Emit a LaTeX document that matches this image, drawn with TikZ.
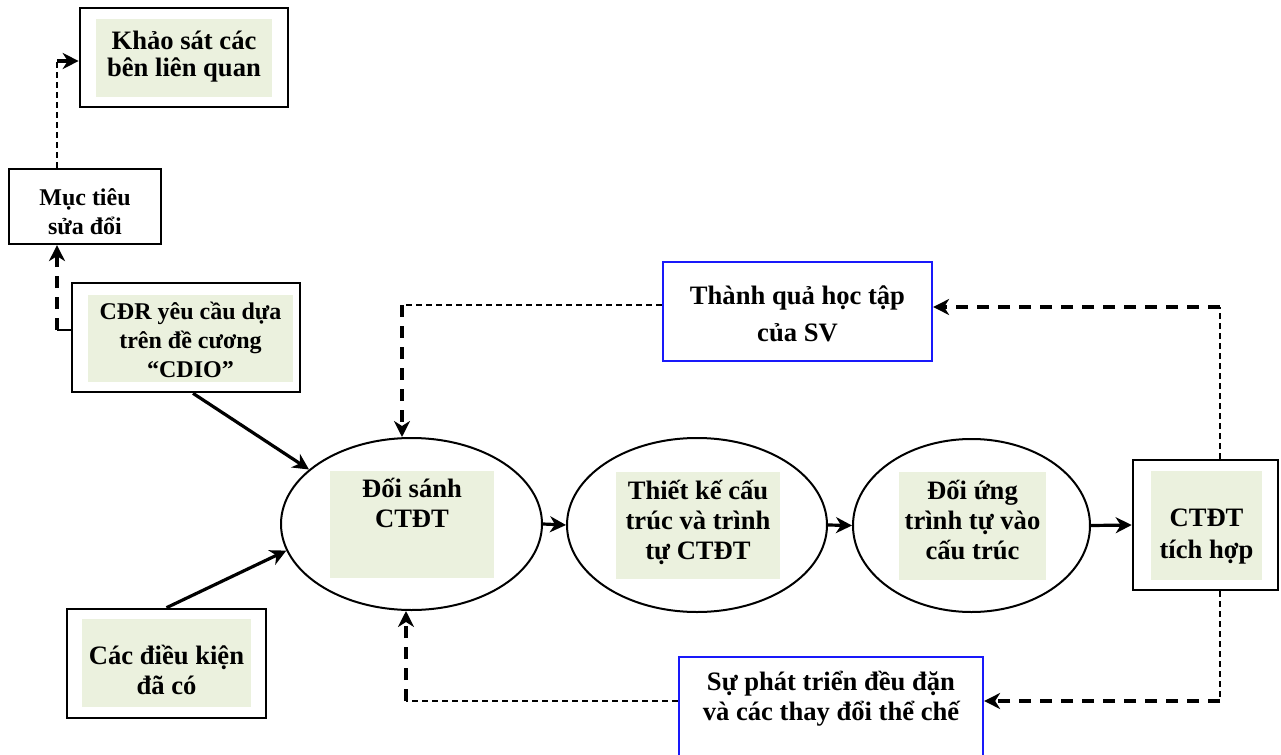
\documentclass[tikz,border=0pt]{standalone}
\usepackage{fontspec}
\setmainfont{Liberation Serif}
\usepackage{tikz}
\usetikzlibrary{shapes, arrows.meta, positioning}
\definecolor{verdeclaro}{RGB}{235,241,222}
\definecolor{azul}{RGB}{25,25,250}
\newcommand{\texto}{\fontsize{13.3}{15}\selectfont\bfseries}
\newcommand{\textochico}{\fontsize{12}{14.5}\selectfont\bfseries}
\tikzstyle{marco} = [draw=black, line width=1.3pt, rectangle, inner sep=0pt]
\tikzstyle{fondo} = [fill=verdeclaro, rectangle, inner sep=0pt]
\tikzstyle{elipse} = [draw=black, ellipse, line width=1pt, inner sep=0pt]
\tikzstyle{cajaazul} = [draw=azul, line width=1.1pt, rectangle, inner sep=0pt]
\tikzstyle{rotulo} = [inner sep=0pt, align=center, font=\texto]
\tikzstyle{flecha} = [line width=1.6pt, -{Stealth[length=8pt,width=8pt,inset=2.5pt]}]
\tikzstyle{fino} = [line width=0.7pt, dash pattern=on 3pt off 2pt]
\tikzstyle{grueso} = [line width=1.6pt, dash pattern=on 6pt off 4.5pt, -{Stealth[length=8pt,width=8pt,inset=2.5pt]}]

\begin{document}
\begin{tikzpicture}[x=0.5pt, y=-0.5pt]
	\clip (0,0) rectangle (1281,755);
	% columna izquierda
	\node [marco, minimum width=104pt, minimum height=49.5pt] (ks) at (184,57.5) {};
	\node [fondo, minimum width=88pt, minimum height=39pt] (ks-in) at (184,58) {};
	\node [rotulo, font=\fontsize{13.3}{13.8}\selectfont\bfseries] (ks-txt) at (184,56.5) {Khảo sát các\\bên liên quan};
	\node [marco, line width=1.1pt, minimum width=76pt, minimum height=37.5pt] (mt) at (85,206.5) {};
	\node [rotulo, font=\textochico] (mt-txt) at (85,211.5) {Mục tiêu\\sửa đổi};
	\node [marco, minimum width=114pt, minimum height=54.5pt] (cdr) at (186,337.5) {};
	\node [fondo, minimum width=102.5pt, minimum height=43.5pt] (cdr-in) at (190.5,338.5) {};
	\node [rotulo, font=\textochico] (cdr-txt) at (190.5,339.5) {CĐR yêu cầu dựa\\trên đề cương\\“CDIO”};
	\node [marco, minimum width=99.5pt, minimum height=54.5pt] (dk) at (166.5,663.5) {};
	\node [fondo, minimum width=84.5pt, minimum height=44pt] (dk-in) at (166.5,663) {};
	\node [rotulo] (dk-txt) at (166.5,670) {Các điều kiện\\đã có};
	% elipses
	\node [elipse, minimum width=130.5pt, minimum height=86pt] (e1) at (411.5,524) {};
	\node [fondo, minimum width=82pt, minimum height=53.5pt] (e1-in) at (412,524.5) {};
	\node [rotulo] (e1-txt) at (412,503) {Đối sánh\\CTĐT};
	\node [elipse, minimum width=130pt, minimum height=87pt] (e2) at (697,525) {};
	\node [fondo, minimum width=82pt, minimum height=53.5pt] (e2-in) at (698,525.5) {};
	\node [rotulo] (e2-txt) at (698,522.5) {Thiết kế cấu\\trúc và trình\\tự CTĐT};
	\node [elipse, minimum width=118.5pt, minimum height=86.5pt] (e3) at (971.5,525.5) {};
	\node [fondo, minimum width=73.5pt, minimum height=54pt] (e3-in) at (972.5,526) {};
	\node [rotulo] (e3-txt) at (972.5,520) {Đối ứng\\trình tự vào\\cấu trúc};
	\node [marco, minimum width=72.5pt, minimum height=65pt] (ctdt) at (1205.5,525) {};
	\node [fondo, minimum width=55.5pt, minimum height=54.5pt] (ctdt-in) at (1206.5,525.5) {};
	\node [rotulo, font=\fontsize{13.3}{16}\selectfont\bfseries] (ctdt-txt) at (1206.5,537) {CTĐT\\tích hợp};
	% retroalimentacion
	\node [cajaazul, minimum width=134.5pt, minimum height=49.5pt] (tq) at (797.5,311.5) {};
	\node [rotulo, font=\fontsize{13.3}{18.5}\selectfont\bfseries] (tq-txt) at (797.5,313.5) {Thành quả học tập\\của SV};
	\node [cajaazul, minimum width=152pt, minimum height=59pt] (sp) at (831,716) {};
	\node [rotulo] (sp-txt) at (831,698.5) {Sự phát triển đều đặn\\và các thay đổi thể chế};

	\coordinate (m1) at (57,330);
	\coordinate (m2) at (57,61);
	\coordinate (t1) at (402,305);
	\coordinate (t2) at (1220,307);
	\coordinate (b1) at (406,701);
	\coordinate (b2) at (1220,701);

	\draw [flecha] ([xshift=3.5pt]cdr.south) -- (e1.152.5);
	\draw [flecha] (dk.north) -- (e1.192);
	\draw [flecha] (e1.east) -- (e2.west);
	\draw [flecha] (e2.east) -- (e3.west);
	\draw [flecha] (e3.east) -- (ctdt.west);

	\draw [line width=1pt] ([yshift=3.75pt]cdr.west) -- (m1);
	\draw [grueso] (m1) -- (m1 |- mt.south);
	\draw [fino] (m1 |- mt.north) -- (m2);
	\draw [flecha] (m2) -- (m2 -| ks.west);

	\draw [fino] (tq.west |- t1) -- (t1);
	\draw [grueso] (t1) -- (t1 |- e1.north);
	\draw [fino] (t2 |- ctdt.north) -- (t2);
	\draw [grueso] (t2) -- (t2 -| tq.east);
	\draw [fino] (b2 |- ctdt.south) -- (b2);
	\draw [grueso] (b2) -- (b2 -| sp.east);
	\draw [fino] (sp.west |- b1) -- (b1);
	\draw [grueso] (b1) -- (b1 |- e1.south);
\end{tikzpicture}
\end{document}
